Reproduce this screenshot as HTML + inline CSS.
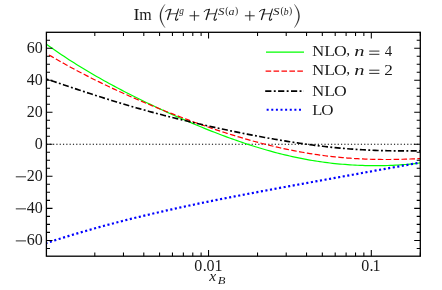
<!DOCTYPE html>
<html><head><meta charset="utf-8"><style>html,body{margin:0;padding:0;background:#fff}svg{will-change:transform}</style></head><body><svg width="442" height="290" viewBox="0 0 442 290" style="display:block;font-family:'Liberation Serif',serif">
<rect width="442" height="290" fill="#fff"/>
<line x1="46.4" y1="144.28" x2="420.3" y2="144.28" stroke="#000" stroke-width="1.1" stroke-dasharray="1.2 2.11"/>
<clipPath id="c"><rect x="46.4" y="32.3" width="373.90000000000003" height="223.89999999999998"/></clipPath>
<g clip-path="url(#c)" fill="none">
<path d="M46.40,44.32 L48.91,46.10 L51.42,47.86 L53.93,49.59 L56.44,51.32 L58.95,53.02 L61.46,54.70 L63.97,56.36 L66.48,58.01 L68.98,59.64 L71.49,61.25 L74.00,62.84 L76.51,64.41 L79.02,65.97 L81.53,67.51 L84.04,69.03 L86.55,70.54 L89.06,72.03 L91.57,73.50 L94.08,74.96 L96.59,76.40 L99.10,77.83 L101.61,79.25 L104.12,80.65 L106.63,82.04 L109.13,83.41 L111.64,84.78 L114.15,86.13 L116.66,87.46 L119.17,88.79 L121.68,90.10 L124.19,91.41 L126.70,92.70 L129.21,93.98 L131.72,95.25 L134.23,96.51 L136.74,97.76 L139.25,99.01 L141.76,100.24 L144.27,101.46 L146.78,102.68 L149.29,103.88 L151.79,105.08 L154.30,106.27 L156.81,107.45 L159.32,108.62 L161.83,109.78 L164.34,110.94 L166.85,112.09 L169.36,113.23 L171.87,114.36 L174.38,115.48 L176.89,116.60 L179.40,117.71 L181.91,118.80 L184.42,119.90 L186.93,120.98 L189.44,122.05 L191.94,123.12 L194.45,124.18 L196.96,125.23 L199.47,126.27 L201.98,127.30 L204.49,128.32 L207.00,129.33 L209.51,130.33 L212.02,131.33 L214.53,132.31 L217.04,133.28 L219.55,134.25 L222.06,135.20 L224.57,136.14 L227.08,137.07 L229.59,137.99 L232.10,138.89 L234.60,139.79 L237.11,140.67 L239.62,141.54 L242.13,142.40 L244.64,143.25 L247.15,144.08 L249.66,144.90 L252.17,145.71 L254.68,146.50 L257.19,147.28 L259.70,148.04 L262.21,148.79 L264.72,149.53 L267.23,150.25 L269.74,150.95 L272.25,151.64 L274.76,152.32 L277.26,152.97 L279.77,153.62 L282.28,154.24 L284.79,154.85 L287.30,155.45 L289.81,156.03 L292.32,156.59 L294.83,157.13 L297.34,157.66 L299.85,158.17 L302.36,158.67 L304.87,159.15 L307.38,159.61 L309.89,160.05 L312.40,160.48 L314.91,160.89 L317.41,161.28 L319.92,161.65 L322.43,162.01 L324.94,162.35 L327.45,162.68 L329.96,162.99 L332.47,163.28 L334.98,163.55 L337.49,163.80 L340.00,164.04 L342.51,164.27 L345.02,164.47 L347.53,164.66 L350.04,164.83 L352.55,164.99 L355.06,165.13 L357.57,165.25 L360.07,165.36 L362.58,165.45 L365.09,165.53 L367.60,165.59 L370.11,165.63 L372.62,165.66 L375.13,165.67 L377.64,165.66 L380.15,165.64 L382.66,165.60 L385.17,165.55 L387.68,165.48 L390.19,165.39 L392.70,165.28 L395.21,165.16 L397.72,165.02 L400.22,164.87 L402.73,164.69 L405.24,164.50 L407.75,164.29 L410.26,164.05 L412.77,163.80 L415.28,163.53 L417.79,163.24 L420.30,162.92" stroke="#00ff00" stroke-width="1.2"/>
<path d="M46.40,53.43 L48.91,54.92 L51.42,56.39 L53.93,57.86 L56.44,59.30 L58.95,60.74 L61.46,62.16 L63.97,63.56 L66.48,64.96 L68.98,66.34 L71.49,67.70 L74.00,69.06 L76.51,70.40 L79.02,71.72 L81.53,73.04 L84.04,74.34 L86.55,75.63 L89.06,76.91 L91.57,78.18 L94.08,79.44 L96.59,80.68 L99.10,81.91 L101.61,83.14 L104.12,84.35 L106.63,85.55 L109.13,86.74 L111.64,87.93 L114.15,89.10 L116.66,90.26 L119.17,91.41 L121.68,92.56 L124.19,93.69 L126.70,94.82 L129.21,95.93 L131.72,97.04 L134.23,98.14 L136.74,99.23 L139.25,100.31 L141.76,101.39 L144.27,102.46 L146.78,103.51 L149.29,104.57 L151.79,105.61 L154.30,106.65 L156.81,107.67 L159.32,108.69 L161.83,109.71 L164.34,110.71 L166.85,111.71 L169.36,112.70 L171.87,113.68 L174.38,114.66 L176.89,115.63 L179.40,116.59 L181.91,117.54 L184.42,118.49 L186.93,119.42 L189.44,120.36 L191.94,121.28 L194.45,122.19 L196.96,123.10 L199.47,124.00 L201.98,124.89 L204.49,125.77 L207.00,126.65 L209.51,127.51 L212.02,128.37 L214.53,129.22 L217.04,130.06 L219.55,130.89 L222.06,131.71 L224.57,132.52 L227.08,133.32 L229.59,134.12 L232.10,134.90 L234.60,135.68 L237.11,136.44 L239.62,137.19 L242.13,137.94 L244.64,138.67 L247.15,139.39 L249.66,140.11 L252.17,140.81 L254.68,141.50 L257.19,142.17 L259.70,142.84 L262.21,143.50 L264.72,144.14 L267.23,144.77 L269.74,145.39 L272.25,146.00 L274.76,146.59 L277.26,147.18 L279.77,147.74 L282.28,148.30 L284.79,148.85 L287.30,149.38 L289.81,149.89 L292.32,150.40 L294.83,150.89 L297.34,151.37 L299.85,151.83 L302.36,152.28 L304.87,152.72 L307.38,153.14 L309.89,153.55 L312.40,153.95 L314.91,154.33 L317.41,154.70 L319.92,155.05 L322.43,155.39 L324.94,155.72 L327.45,156.03 L329.96,156.33 L332.47,156.61 L334.98,156.88 L337.49,157.14 L340.00,157.38 L342.51,157.61 L345.02,157.82 L347.53,158.03 L350.04,158.21 L352.55,158.39 L355.06,158.55 L357.57,158.70 L360.07,158.83 L362.58,158.95 L365.09,159.06 L367.60,159.16 L370.11,159.24 L372.62,159.32 L375.13,159.38 L377.64,159.42 L380.15,159.46 L382.66,159.48 L385.17,159.49 L387.68,159.49 L390.19,159.48 L392.70,159.46 L395.21,159.43 L397.72,159.39 L400.22,159.33 L402.73,159.27 L405.24,159.20 L407.75,159.11 L410.26,159.02 L412.77,158.91 L415.28,158.80 L417.79,158.68 L420.30,158.55" stroke="#ff0000" stroke-width="1.2" stroke-dasharray="5.55 2.37" stroke-dashoffset="-3"/>
<path d="M46.40,79.11 L48.91,79.92 L51.42,80.75 L53.93,81.57 L56.44,82.40 L58.95,83.24 L61.46,84.08 L63.97,84.91 L66.48,85.75 L68.98,86.59 L71.49,87.43 L74.00,88.27 L76.51,89.11 L79.02,89.95 L81.53,90.78 L84.04,91.61 L86.55,92.44 L89.06,93.27 L91.57,94.09 L94.08,94.90 L96.59,95.71 L99.10,96.52 L101.61,97.32 L104.12,98.12 L106.63,98.91 L109.13,99.70 L111.64,100.48 L114.15,101.25 L116.66,102.02 L119.17,102.78 L121.68,103.54 L124.19,104.29 L126.70,105.03 L129.21,105.77 L131.72,106.50 L134.23,107.22 L136.74,107.94 L139.25,108.65 L141.76,109.36 L144.27,110.06 L146.78,110.75 L149.29,111.44 L151.79,112.12 L154.30,112.80 L156.81,113.47 L159.32,114.13 L161.83,114.79 L164.34,115.44 L166.85,116.08 L169.36,116.72 L171.87,117.36 L174.38,117.99 L176.89,118.61 L179.40,119.23 L181.91,119.84 L184.42,120.45 L186.93,121.05 L189.44,121.65 L191.94,122.25 L194.45,122.83 L196.96,123.42 L199.47,124.00 L201.98,124.57 L204.49,125.14 L207.00,125.71 L209.51,126.27 L212.02,126.82 L214.53,127.37 L217.04,127.92 L219.55,128.46 L222.06,129.00 L224.57,129.54 L227.08,130.06 L229.59,130.59 L232.10,131.11 L234.60,131.63 L237.11,132.14 L239.62,132.65 L242.13,133.15 L244.64,133.65 L247.15,134.14 L249.66,134.63 L252.17,135.11 L254.68,135.59 L257.19,136.06 L259.70,136.53 L262.21,137.00 L264.72,137.46 L267.23,137.91 L269.74,138.36 L272.25,138.80 L274.76,139.24 L277.26,139.67 L279.77,140.09 L282.28,140.51 L284.79,140.92 L287.30,141.33 L289.81,141.73 L292.32,142.12 L294.83,142.51 L297.34,142.88 L299.85,143.26 L302.36,143.62 L304.87,143.98 L307.38,144.33 L309.89,144.67 L312.40,145.00 L314.91,145.33 L317.41,145.64 L319.92,145.95 L322.43,146.25 L324.94,146.54 L327.45,146.83 L329.96,147.10 L332.47,147.37 L334.98,147.62 L337.49,147.87 L340.00,148.10 L342.51,148.33 L345.02,148.55 L347.53,148.75 L350.04,148.95 L352.55,149.14 L355.06,149.32 L357.57,149.49 L360.07,149.64 L362.58,149.79 L365.09,149.93 L367.60,150.06 L370.11,150.18 L372.62,150.29 L375.13,150.39 L377.64,150.48 L380.15,150.56 L382.66,150.63 L385.17,150.69 L387.68,150.74 L390.19,150.79 L392.70,150.83 L395.21,150.86 L397.72,150.88 L400.22,150.89 L402.73,150.90 L405.24,150.90 L407.75,150.90 L410.26,150.89 L412.77,150.88 L415.28,150.86 L417.79,150.84 L420.30,150.81" stroke="#000" stroke-width="1.65" stroke-dasharray="6.1 2.35 1.9 2.35" stroke-dashoffset="-4.7"/>
<path d="M46.40,243.03 L48.91,242.20 L51.42,241.39 L53.93,240.58 L56.44,239.78 L58.95,238.99 L61.46,238.20 L63.97,237.42 L66.48,236.65 L68.98,235.88 L71.49,235.12 L74.00,234.36 L76.51,233.62 L79.02,232.88 L81.53,232.14 L84.04,231.41 L86.55,230.69 L89.06,229.98 L91.57,229.27 L94.08,228.56 L96.59,227.86 L99.10,227.17 L101.61,226.48 L104.12,225.80 L106.63,225.13 L109.13,224.46 L111.64,223.80 L114.15,223.14 L116.66,222.48 L119.17,221.84 L121.68,221.19 L124.19,220.56 L126.70,219.92 L129.21,219.30 L131.72,218.67 L134.23,218.06 L136.74,217.44 L139.25,216.84 L141.76,216.23 L144.27,215.63 L146.78,215.04 L149.29,214.45 L151.79,213.86 L154.30,213.28 L156.81,212.70 L159.32,212.13 L161.83,211.56 L164.34,210.99 L166.85,210.43 L169.36,209.87 L171.87,209.32 L174.38,208.77 L176.89,208.22 L179.40,207.68 L181.91,207.14 L184.42,206.60 L186.93,206.07 L189.44,205.54 L191.94,205.01 L194.45,204.49 L196.96,203.96 L199.47,203.45 L201.98,202.93 L204.49,202.42 L207.00,201.91 L209.51,201.40 L212.02,200.89 L214.53,200.39 L217.04,199.89 L219.55,199.39 L222.06,198.89 L224.57,198.40 L227.08,197.91 L229.59,197.42 L232.10,196.93 L234.60,196.44 L237.11,195.96 L239.62,195.48 L242.13,195.00 L244.64,194.52 L247.15,194.04 L249.66,193.56 L252.17,193.09 L254.68,192.61 L257.19,192.14 L259.70,191.67 L262.21,191.20 L264.72,190.73 L267.23,190.27 L269.74,189.80 L272.25,189.33 L274.76,188.87 L277.26,188.41 L279.77,187.94 L282.28,187.48 L284.79,187.02 L287.30,186.56 L289.81,186.10 L292.32,185.64 L294.83,185.18 L297.34,184.72 L299.85,184.27 L302.36,183.81 L304.87,183.35 L307.38,182.90 L309.89,182.44 L312.40,181.99 L314.91,181.53 L317.41,181.08 L319.92,180.62 L322.43,180.17 L324.94,179.71 L327.45,179.26 L329.96,178.80 L332.47,178.35 L334.98,177.90 L337.49,177.44 L340.00,176.99 L342.51,176.54 L345.02,176.08 L347.53,175.63 L350.04,175.18 L352.55,174.72 L355.06,174.27 L357.57,173.82 L360.07,173.37 L362.58,172.91 L365.09,172.46 L367.60,172.01 L370.11,171.56 L372.62,171.10 L375.13,170.65 L377.64,170.20 L380.15,169.75 L382.66,169.30 L385.17,168.85 L387.68,168.39 L390.19,167.94 L392.70,167.49 L395.21,167.04 L397.72,166.59 L400.22,166.14 L402.73,165.70 L405.24,165.25 L407.75,164.80 L410.26,164.35 L412.77,163.91 L415.28,163.46 L417.79,163.02 L420.30,162.57" stroke="#0000ff" stroke-width="2.2" stroke-dasharray="2.1 2.52" stroke-dashoffset="1.0"/>
</g>
<path d="M46.4,248.41h3.6M420.3,248.41h-3.6M46.4,240.40h6.1M420.3,240.40h-6.1M46.4,232.39h3.6M420.3,232.39h-3.6M46.4,224.38h3.6M420.3,224.38h-3.6M46.4,216.37h3.6M420.3,216.37h-3.6M46.4,208.36h6.1M420.3,208.36h-6.1M46.4,200.35h3.6M420.3,200.35h-3.6M46.4,192.34h3.6M420.3,192.34h-3.6M46.4,184.33h3.6M420.3,184.33h-3.6M46.4,176.32h6.1M420.3,176.32h-6.1M46.4,168.31h3.6M420.3,168.31h-3.6M46.4,160.30h3.6M420.3,160.30h-3.6M46.4,152.29h3.6M420.3,152.29h-3.6M46.4,144.28h6.1M420.3,144.28h-6.1M46.4,136.27h3.6M420.3,136.27h-3.6M46.4,128.26h3.6M420.3,128.26h-3.6M46.4,120.25h3.6M420.3,120.25h-3.6M46.4,112.24h6.1M420.3,112.24h-6.1M46.4,104.23h3.6M420.3,104.23h-3.6M46.4,96.22h3.6M420.3,96.22h-3.6M46.4,88.21h3.6M420.3,88.21h-3.6M46.4,80.20h6.1M420.3,80.20h-6.1M46.4,72.19h3.6M420.3,72.19h-3.6M46.4,64.18h3.6M420.3,64.18h-3.6M46.4,56.17h3.6M420.3,56.17h-3.6M46.4,48.16h6.1M420.3,48.16h-6.1M46.4,40.15h3.6M420.3,40.15h-3.6M94.80,256.2v-3.6M94.80,32.3v3.6M123.46,256.2v-3.6M123.46,32.3v3.6M143.80,256.2v-3.6M143.80,32.3v3.6M159.57,256.2v-3.6M159.57,32.3v3.6M172.45,256.2v-3.6M172.45,32.3v3.6M183.35,256.2v-3.6M183.35,32.3v3.6M192.79,256.2v-3.6M192.79,32.3v3.6M201.11,256.2v-3.6M201.11,32.3v3.6M208.56,256.2v-6.1M208.56,32.3v6.1M257.55,256.2v-3.6M257.55,32.3v3.6M286.21,256.2v-3.6M286.21,32.3v3.6M306.55,256.2v-3.6M306.55,32.3v3.6M322.32,256.2v-3.6M322.32,32.3v3.6M335.20,256.2v-3.6M335.20,32.3v3.6M346.10,256.2v-3.6M346.10,32.3v3.6M355.54,256.2v-3.6M355.54,32.3v3.6M363.86,256.2v-3.6M363.86,32.3v3.6M371.31,256.2v-6.1M371.31,32.3v6.1M420.30,256.2v-3.6M420.30,32.3v3.6" stroke="#000" stroke-width="1.05" fill="none"/>
<rect x="46.4" y="32.3" width="373.90000000000003" height="223.89999999999998" fill="none" stroke="#000" stroke-width="1.3"/>
<text x="42.71" y="52.91" font-size="16" text-anchor="end" fill="#1a1a1a">60</text>
<text x="42.71" y="84.95" font-size="16" text-anchor="end" fill="#1a1a1a">40</text>
<text x="42.71" y="116.99" font-size="16" text-anchor="end" fill="#1a1a1a">20</text>
<text x="42.71" y="149.03" font-size="16" text-anchor="end" fill="#1a1a1a">0</text>
<text x="42.71" y="181.07" font-size="16" text-anchor="end" fill="#1a1a1a">20</text>
<line x1="15.8" x2="26" y1="176.82" y2="176.82" stroke="#1a1a1a" stroke-width="0.9"/>
<text x="42.71" y="213.11" font-size="16" text-anchor="end" fill="#1a1a1a">40</text>
<line x1="15.8" x2="26" y1="208.86" y2="208.86" stroke="#1a1a1a" stroke-width="0.9"/>
<text x="42.71" y="245.15" font-size="16" text-anchor="end" fill="#1a1a1a">60</text>
<line x1="15.8" x2="26" y1="240.90" y2="240.90" stroke="#1a1a1a" stroke-width="0.9"/>
<text transform="translate(194.29,271.00) scale(1.0,1)" font-size="16" fill="#1a1a1a">0</text>
<text transform="translate(202.75,271.00) scale(1.0,1)" font-size="16" fill="#1a1a1a">.</text>
<text transform="translate(206.39,271.00) scale(1.0,1)" font-size="16" fill="#1a1a1a">0</text>
<text transform="translate(214.59,271.00) scale(1.0,1)" font-size="16" fill="#1a1a1a">1</text>
<text transform="translate(361.19,271.00) scale(1.0,1)" font-size="16" fill="#1a1a1a">0</text>
<text transform="translate(369.45,271.00) scale(1.0,1)" font-size="16" fill="#1a1a1a">.</text>
<text transform="translate(372.59,271.00) scale(1.0,1)" font-size="16" fill="#1a1a1a">1</text>
<text transform="translate(209.19,281.20) scale(1.054024644884275,1)" font-size="14.8" font-style="italic" fill="#1a1a1a">x</text>
<text transform="translate(217.78,283.90) scale(1.1882182766129903,1)" font-size="10.6" font-style="italic" fill="#1a1a1a">B</text>
<line x1="266" x2="304" y1="52.15" y2="52.15" stroke="#00ff00" stroke-width="1.3"/>
<line x1="265.6" x2="304" y1="71.1" y2="71.1" stroke="#ff0000" stroke-width="1.35" stroke-dasharray="5.6 2.33"/>
<line x1="265.2" x2="304" y1="91.1" y2="91.1" stroke="#000" stroke-width="1.7" stroke-dasharray="6.2 2.4 1.9 2.4"/>
<line x1="266.65" x2="302" y1="109.8" y2="109.8" stroke="#0000ff" stroke-width="2.1" stroke-dasharray="2 2.62"/>
<text transform="translate(312.28,55.60) scale(1.0843715260474578,1)" font-size="15.2" fill="#1a1a1a">N</text>
<text transform="translate(324.20,55.60) scale(1.1469646989316162,1)" font-size="15.2" fill="#1a1a1a">L</text>
<text transform="translate(333.88,55.60) scale(1.1613473041872369,1)" font-size="15.2" fill="#1a1a1a">O</text>
<text transform="translate(312.28,74.70) scale(1.0843715260474578,1)" font-size="15.2" fill="#1a1a1a">N</text>
<text transform="translate(324.20,74.70) scale(1.1469646989316162,1)" font-size="15.2" fill="#1a1a1a">L</text>
<text transform="translate(333.88,74.70) scale(1.1613473041872369,1)" font-size="15.2" fill="#1a1a1a">O</text>
<text transform="translate(312.28,96.40) scale(1.0843715260474578,1)" font-size="15.2" fill="#1a1a1a">N</text>
<text transform="translate(324.20,96.40) scale(1.1469646989316162,1)" font-size="15.2" fill="#1a1a1a">L</text>
<text transform="translate(333.88,96.40) scale(1.1613473041872369,1)" font-size="15.2" fill="#1a1a1a">O</text>
<text transform="translate(346.22,55.30) scale(1.0,1)" font-size="15.2" fill="#1a1a1a">,</text>
<text transform="translate(354.17,55.60) scale(1.3535918317734361,1)" font-size="15.2" font-style="italic" fill="#1a1a1a">n</text>
<path d="M369.2,51.10h10.2M369.2,54.30h10.2" stroke="#1a1a1a" stroke-width="0.9"/>
<text transform="translate(384.71,55.60) scale(0.9765590446704966,1)" font-size="15.2" fill="#1a1a1a">4</text>
<text transform="translate(346.22,74.40) scale(1.0,1)" font-size="15.2" fill="#1a1a1a">,</text>
<text transform="translate(354.17,74.70) scale(1.3535918317734361,1)" font-size="15.2" font-style="italic" fill="#1a1a1a">n</text>
<path d="M369.2,70.20h10.2M369.2,73.40h10.2" stroke="#1a1a1a" stroke-width="0.9"/>
<text transform="translate(384.24,74.70) scale(1.1323802807872263,1)" font-size="15.2" fill="#1a1a1a">2</text>
<text transform="translate(312.13,115.40) scale(1.0839446605287733,1)" font-size="15.2" fill="#1a1a1a">L</text>
<text transform="translate(321.30,115.40) scale(1.1202376651009651,1)" font-size="15.2" fill="#1a1a1a">O</text>
<text transform="translate(133.55,19.80) scale(1.12,1)" font-size="16" fill="#1a1a1a">I</text>
<text transform="translate(139.31,19.80) scale(1.0,1)" font-size="16" fill="#1a1a1a">m</text>
<path d="M165.0,4.3 C160.6,9.5 159.9,13.5 159.9,16 C159.9,18.5 160.6,22.5 165.0,27.7 C161.6,22.5 160.9,18.5 160.9,16 C160.9,13.5 161.6,9.5 165.0,4.3Z" fill="#1a1a1a" stroke="#1a1a1a" stroke-width="0.25"/>
<path d="M294.4,4.3 C298.8,9.5 299.5,13.5 299.5,16 C299.5,18.5 298.8,22.5 294.4,27.7 C297.8,22.5 298.5,18.5 298.5,16 C298.5,13.5 297.8,9.5 294.4,4.3Z" fill="#1a1a1a" stroke="#1a1a1a" stroke-width="0.25"/>
<defs><g id="H" fill="none" stroke="#1a1a1a" stroke-linecap="round" stroke-linejoin="round"><path d="M0.1,2.4 C0.7,1.0 2.2,0.2 5.2,0.1" stroke-width="0.95"/><path d="M5.3,0.1 L2.1,10.2" stroke-width="1.3"/><path d="M3.5,4.75 L11.2,4.3" stroke-width="0.8"/><path d="M13.0,-0.2 L10.0,9.7 C9.8,10.8 10.6,11.2 11.4,10.7 C11.9,10.4 12.2,10.1 12.4,9.7" stroke-width="1.05"/></g></defs>
<use href="#H" x="165.5" y="9.3"/>
<use href="#H" x="204.05" y="9.3"/>
<use href="#H" x="259.35" y="9.3"/>
<path d="M189.5,15.8h9.8M194.4,10.9v9.8" stroke="#1a1a1a" stroke-width="0.9"/>
<path d="M244.9,15.8h9.8M249.8,10.9v9.8" stroke="#1a1a1a" stroke-width="0.9"/>
<text transform="translate(179.30,14.40) scale(0.8506749740394556,1)" font-size="11" font-style="italic" fill="#1a1a1a">g</text>
<text transform="translate(217.95,14.70) scale(1.133257134563398,1)" font-size="11.4" font-style="italic" fill="#1a1a1a">S</text>
<text transform="translate(225.28,14.10) scale(0.9,1)" font-size="10.6" fill="#1a1a1a">(</text>
<text transform="translate(228.44,14.70) scale(1.1447490056970844,1)" font-size="10.5" font-style="italic" fill="#1a1a1a">a</text>
<text transform="translate(234.89,14.10) scale(0.9,1)" font-size="10.6" fill="#1a1a1a">)</text>
<text transform="translate(273.05,14.70) scale(1.1518351203759116,1)" font-size="11.4" font-style="italic" fill="#1a1a1a">S</text>
<text transform="translate(280.38,14.10) scale(0.9,1)" font-size="10.6" fill="#1a1a1a">(</text>
<text transform="translate(283.64,14.70) scale(0.8906745086669267,1)" font-size="10.9" font-style="italic" fill="#1a1a1a">b</text>
<text transform="translate(289.09,14.10) scale(0.9,1)" font-size="10.6" fill="#1a1a1a">)</text>
</svg></body></html>
